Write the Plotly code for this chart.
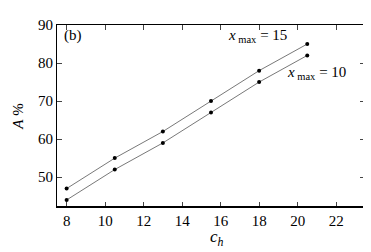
import plotly.graph_objects as go

ch = [8, 10.5, 13, 15.5, 18, 20.5]
a_x15 = [47, 55, 62, 70, 78, 85]
a_x10 = [44, 52, 59, 67, 75, 82]
x_ticks = [8, 10, 12, 14, 16, 18, 20, 22]
y_ticks = [50, 60, 70, 80, 90]

FONT = "'Liberation Serif', 'Times New Roman', serif"
fig = go.Figure()
for ys in (a_x15, a_x10):
    fig.add_trace(go.Scatter(
        x=ch, y=ys, mode="lines+markers",
        line=dict(color="#555555", width=0.8),
        marker=dict(color="black", size=4),
        showlegend=False, cliponaxis=False))

fig.add_annotation(x=8.35, y=89.9, yanchor="top", text="(b)", showarrow=False,
                   font=dict(family=FONT, size=15, color="black"))
fig.add_annotation(x=17.9, y=89.95, yanchor="top", text="<i>x</i><sub> max</sub> = 15", showarrow=False,
                   font=dict(family=FONT, size=15, color="black"))
fig.add_annotation(x=21.0, y=80.3, yanchor="top", text="<i>x</i><sub> max</sub> = 10", showarrow=False,
                   font=dict(family=FONT, size=15, color="black"))
fig.add_annotation(x=15.8, xref="x", y=-0.1, yref="paper", yanchor="top",
                   text="<i>c<sub>h</sub></i>", showarrow=False,
                   font=dict(family=FONT, size=17, color="black"))

fig.add_shape(type="line", xref="paper", yref="paper", x0=1, x1=1, y0=0, y1=1,
              line=dict(color="black", width=2.5))
fig.add_shape(type="line", xref="paper", yref="paper", x0=0, x1=1, y0=0, y1=0,
              line=dict(color="black", width=2))

fig.update_xaxes(range=[7.5, 23.5], tickvals=x_ticks, ticks="inside", ticklen=5,
                 showline=True, linecolor="black", linewidth=1.2, mirror="ticks",
                 showgrid=False, zeroline=False,
                 tickfont=dict(family=FONT, size=15, color="black"))
fig.update_yaxes(range=[42.15, 90], tickvals=y_ticks, ticks="inside", ticklen=5,
                 showline=True, linecolor="black", linewidth=1.2, mirror="ticks",
                 showgrid=False, zeroline=False,
                 tickfont=dict(family=FONT, size=15, color="black"),
                 title=dict(text="<i>A</i> %", font=dict(family=FONT, size=15, color="black"), standoff=10))
fig.update_layout(width=371, height=252, margin=dict(l=47, r=14, t=9, b=53),
                  plot_bgcolor="white", paper_bgcolor="white")
fig.write_html("out.html")
